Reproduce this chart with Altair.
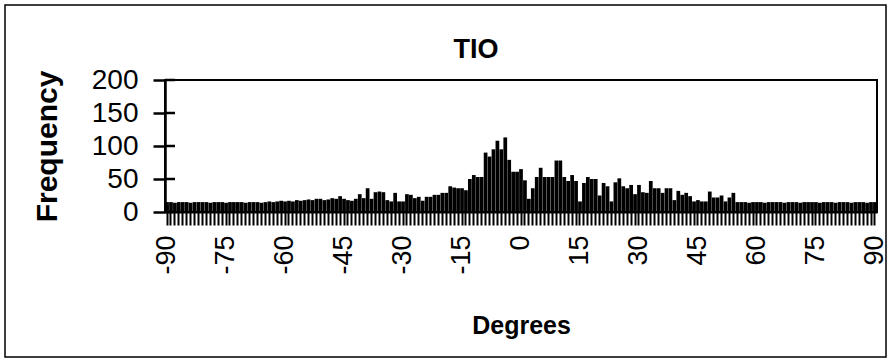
import altair as alt
import pandas as pd

# Histogram of orientation angles, one bin per degree
degrees = list(range(-90, 91))
frequency = [
    # -90 .. -56
    15, 15, 14, 15, 15, 15, 14, 15, 15, 15,
    15, 14, 15, 15, 15, 14, 15, 15, 15, 15,
    14, 15, 15, 15, 14, 15, 16, 15, 16, 17,
    16, 17, 16, 18, 17,
    # -55 .. -1
    18, 19, 18, 20, 20, 18, 19, 21, 20, 24,
    20, 18, 17, 20, 27, 21, 36, 20, 30, 31,
    30, 18, 16, 29, 16, 16, 27, 26, 21, 23,
    17, 23, 23, 26, 26, 29, 29, 39, 37, 36,
    36, 33, 50, 56, 53, 53, 90, 84, 95, 108,
    95, 113, 79, 61, 61,
    # 0 .. 55
    65, 48, 20, 36, 53, 67, 53, 53, 53, 78,
    78, 53, 47, 56, 47, 16, 44, 53, 50, 50,
    25, 44, 39, 16, 45, 51, 39, 36, 41, 27,
    41, 30, 29, 47, 36, 36, 29, 36, 36, 18,
    32, 26, 29, 24, 16, 18, 16, 16, 31, 22,
    22, 25, 16, 22, 29, 15,
    # 56 .. 90
    15, 15, 14, 15, 15, 15, 14, 15, 15, 15,
    15, 14, 15, 15, 15, 14, 15, 15, 15, 15,
    14, 15, 15, 15, 14, 15, 15, 15, 14, 15,
    15, 15, 14, 15, 15,
]
y_ticks = [0, 50, 100, 150, 200]
chart_title = "TIO"

FONT = "Liberation Sans"
W, H = 712, 132

hist = pd.DataFrame({"deg": degrees, "freq": frequency})
ticks = pd.DataFrame({"v": y_ticks})
one_row = pd.DataFrame({"k": [0]})

y_scale = alt.Scale(domain=[0, 200], nice=False)

bars = alt.Chart(hist).mark_bar(color="black").encode(
    x=alt.X(
        "deg:O",
        scale=alt.Scale(domain=degrees, paddingInner=0.05, paddingOuter=0.05),
        axis=alt.Axis(
            title="Degrees",
            titleFont=FONT,
            titleFontSize=25,
            titleFontWeight="bold",
            titleColor="black",
            titleY=113,
            titleBaseline="middle",
            labelExpr="datum.value % 15 == 0 ? datum.label : ''",
            labelOverlap=False,
            labelAngle=270,
            labelFont=FONT,
            labelFontSize=27,
            labelColor="black",
            labelPadding=10,
            tickSize=13,
            tickWidth=2,
            tickColor="black",
            domainColor="black",
            domainWidth=2,
        ),
    ),
    y=alt.Y(
        "freq:Q",
        scale=y_scale,
        axis=alt.Axis(
            title="Frequency",
            values=y_ticks,
            labelOverlap=False,
            labelBound=False,
            titleFont=FONT,
            titleFontSize=30,
            titleFontWeight="bold",
            titleColor="black",
            titleX=-118,
            titleY=66,
            titleAlign="center",
            titleBaseline="middle",
            labelFont=FONT,
            labelFontSize=28,
            labelColor="black",
            labelPadding=15,
            tickSize=12,
            tickWidth=2.5,
            tickColor="black",
            domainColor="black",
            domainWidth=2.5,
            grid=False,
        ),
    ),
)

# inner half of the y-axis tick marks
inner_ticks = alt.Chart(ticks).mark_rule(color="black", strokeWidth=2.5).encode(
    y=alt.Y("v:Q", scale=y_scale, axis=None),
    x=alt.value(0),
    x2=alt.value(10),
)

# plot-area border
plot_box = alt.Chart(one_row).mark_rect(
    fill="transparent", stroke="black", strokeWidth=2
).encode(
    x=alt.value(0), x2=alt.value(W), y=alt.value(0), y2=alt.value(H)
)

# border around the whole chart
frame = alt.Chart(one_row).mark_rect(
    fill="transparent", stroke="black", strokeWidth=1.5, clip=False
).encode(
    x=alt.value(-160), x2=alt.value(721), y=alt.value(-75), y2=alt.value(277)
)

# chart heading
heading = alt.Chart(one_row).mark_text(
    text=chart_title, font=FONT, fontSize=27, fontWeight="bold",
    color="black", align="center", baseline="middle",
).encode(x=alt.value(311), y=alt.value(-30))

chart = alt.layer(bars, inner_ticks, plot_box, frame, heading).resolve_axis(
    y="independent"
).properties(
    width=W,
    height=H,
    autosize=alt.AutoSizeParams(type="none"),
    padding={"left": 165, "top": 80, "right": 13, "bottom": 150},
).configure(
    background="white",
    view=alt.ViewConfig(stroke=None),
)

chart.save("out.html", embed_options={"renderer": "svg", "actions": False})
